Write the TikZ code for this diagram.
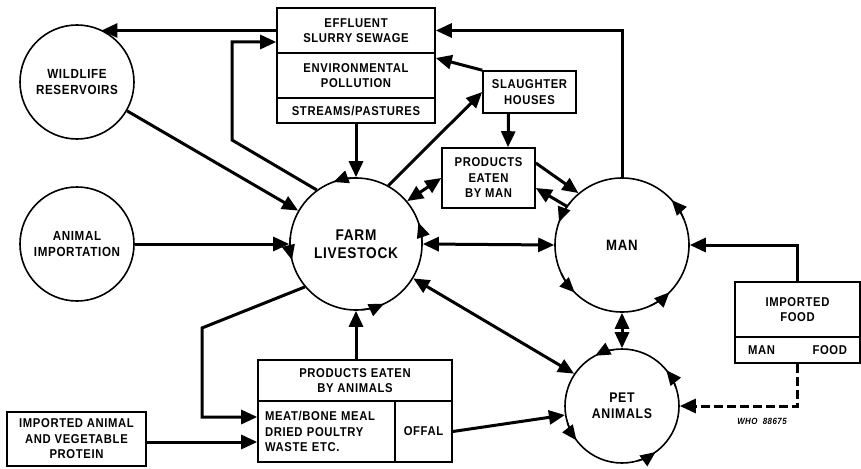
\documentclass[tikz,border=0pt]{standalone}
\usepackage{fontspec}
\setmainfont{Liberation Sans}[FakeStretch=0.88,LetterSpace=5]
\usetikzlibrary{arrows.meta}
\newcommand\cycarr[3]{\draw[cyc] ([shift={(#2-20:#3)}]#1.center) arc[start angle=#2-20, end angle=#2, radius=#3];}
\begin{document}
\begin{tikzpicture}[x=1pt,y=1pt,
  conn/.style={line width=3pt},
  arr/.style={conn,-{Triangle[length=16pt,width=14pt]}},
  darr/.style={conn,{Triangle[length=16pt,width=14pt]}-{Triangle[length=16pt,width=14pt]}},
  bigcirc/.style={circle,draw,line width=1.6pt,inner sep=0pt,align=center,font=\bfseries\fontsize{13.2}{16}\selectfont},
  boxx/.style={rectangle,draw,line width=1.6pt,inner sep=0pt,align=center,font=\bfseries\fontsize{12.8}{15.5}\selectfont},
  cyc/.style={line width=1.6pt,-{Triangle[length=15pt,width=13pt]}}
]
\useasboundingbox (0,0) rectangle (861,-468);
\fill[white] (0,0) rectangle (861,-468);

% circles
\node[bigcirc,minimum size=114pt] (wild) at (77,-82) {WILDLIFE\\RESERVOIRS};
\node[bigcirc,minimum size=114pt] (anim) at (77,-244) {ANIMAL\\IMPORTATION};
\node[bigcirc,minimum size=132pt,font=\bfseries\fontsize{15.5}{18}\selectfont] (farm) at (356,-244) {FARM\\LIVESTOCK};
\node[bigcirc,minimum size=134pt,font=\bfseries\fontsize{15}{18}\selectfont] (man) at (622,-245) {MAN};
\node[bigcirc,minimum size=114pt,font=\bfseries\fontsize{14}{16}\selectfont] (pet) at (622,-406) {PET\\ANIMALS};

% boxes
\node[boxx,minimum width=158pt,minimum height=45pt] (eff) at (356,-30.5) {EFFLUENT\\SLURRY SEWAGE};
\node[boxx,minimum width=158pt,minimum height=45pt] (env) at (356,-75.5) {ENVIRONMENTAL\\POLLUTION};
\node[boxx,minimum width=158pt,minimum height=25pt] (streams) at (356,-110.5) {STREAMS/PASTURES};
\node[boxx,minimum width=93pt,minimum height=42pt] (slaughter) at (529.5,-92) {SLAUGHTER\\HOUSES};
\node[boxx,minimum width=93pt,minimum height=60pt] (pman) at (488.5,-178) {PRODUCTS\\EATEN\\BY MAN};
\node[boxx,minimum width=194pt,minimum height=41pt] (pa) at (355,-380.5) {PRODUCTS EATEN\\BY ANIMALS};
\node[boxx,minimum width=137pt,minimum height=61pt,text width=123pt,inner xsep=7pt,align=left] (meat) at (326.5,-431.5) {MEAT/BONE MEAL\\DRIED POULTRY\\WASTE ETC.};
\node[boxx,minimum width=57pt,minimum height=61pt] (offal) at (423.5,-431.5) {OFFAL};
\node[boxx,minimum width=139pt,minimum height=54pt] (iprot) at (76.5,-439) {IMPORTED ANIMAL\\AND VEGETABLE\\PROTEIN};
\node[boxx,minimum width=125pt,minimum height=55pt] (ifood) at (797.5,-309.5) {IMPORTED\\FOOD};
\node[boxx,minimum width=125pt,minimum height=26pt,text width=99pt,inner xsep=13pt,align=left] (mfood) at (797.5,-350) {MAN\hfill FOOD};
\node[font=\bfseries\itshape\fontsize{9}{10}\selectfont] (who) at (762,-421) {WHO\ \ 88675};

% cycle arrows on circles
\foreach \a in {110,194,295,19} {\cycarr{farm}{\a}{66pt}}
\foreach \a in {42,160,225,315} {\cycarr{man}{\a}{67pt}}
\foreach \a in {118,39,217,306} {\cycarr{pet}{\a}{57pt}}

% connectors
\coordinate (c1) at (232,-140);
\coordinate (c2) at (232,-42);
\coordinate (c3) at (202,-328);
\coordinate (c4) at (202,-417);

\draw[arr] (eff.west) -- (eff.west -| wild.65);
\draw[arr,line join=miter] (farm.126) -- (c1) -- (c2) -- (c2 -| eff.west);
\draw[arr] (wild.-30) -- (farm.150);
\draw[arr] (anim.east) -- (farm.west);
\draw[arr] (streams.south) -- (farm.north);
\draw[arr] (farm.61) -- (slaughter.west);
\draw[arr] (slaughter.north west) -- ([yshift=17.5pt]env.east);
\draw[arr] ([xshift=-21pt]slaughter.south) -- ([xshift=19.5pt]pman.north);
\draw[darr] (pman.west) -- (farm.40);
\draw[arr] ([yshift=15pt]pman.east) -- (man.130);
\draw[arr] (man.145) -- ([yshift=-10pt]pman.east);
\draw[arr,line join=miter] (man.north) -- (man.north |- eff.east) -- (eff.east);
\draw[darr] (farm.east) -- (man.west);
\draw[arr,line join=miter] (ifood.north) -- (ifood.north |- man.east) -- (man.east);
\draw[darr] (farm.-31) -- (pet.146);
\draw[darr] (man.south) -- (pet.north);
\draw[arr] (pa.north -| farm.south) -- (farm.south);
\draw[arr,line join=miter] (farm.220) -- (c3) -- (c4) -- (c4 -| meat.west);
\draw[arr] ([yshift=-3pt]iprot.east) -- ([yshift=-3pt]iprot.east -| meat.west);
\draw[arr] (offal.east) -- (pet.189);
\draw[arr,dashed,dash pattern=on 9pt off 4pt,line join=miter] (mfood.south) -- (mfood.south |- pet.east) -- (pet.east);
\end{tikzpicture}
\end{document}
